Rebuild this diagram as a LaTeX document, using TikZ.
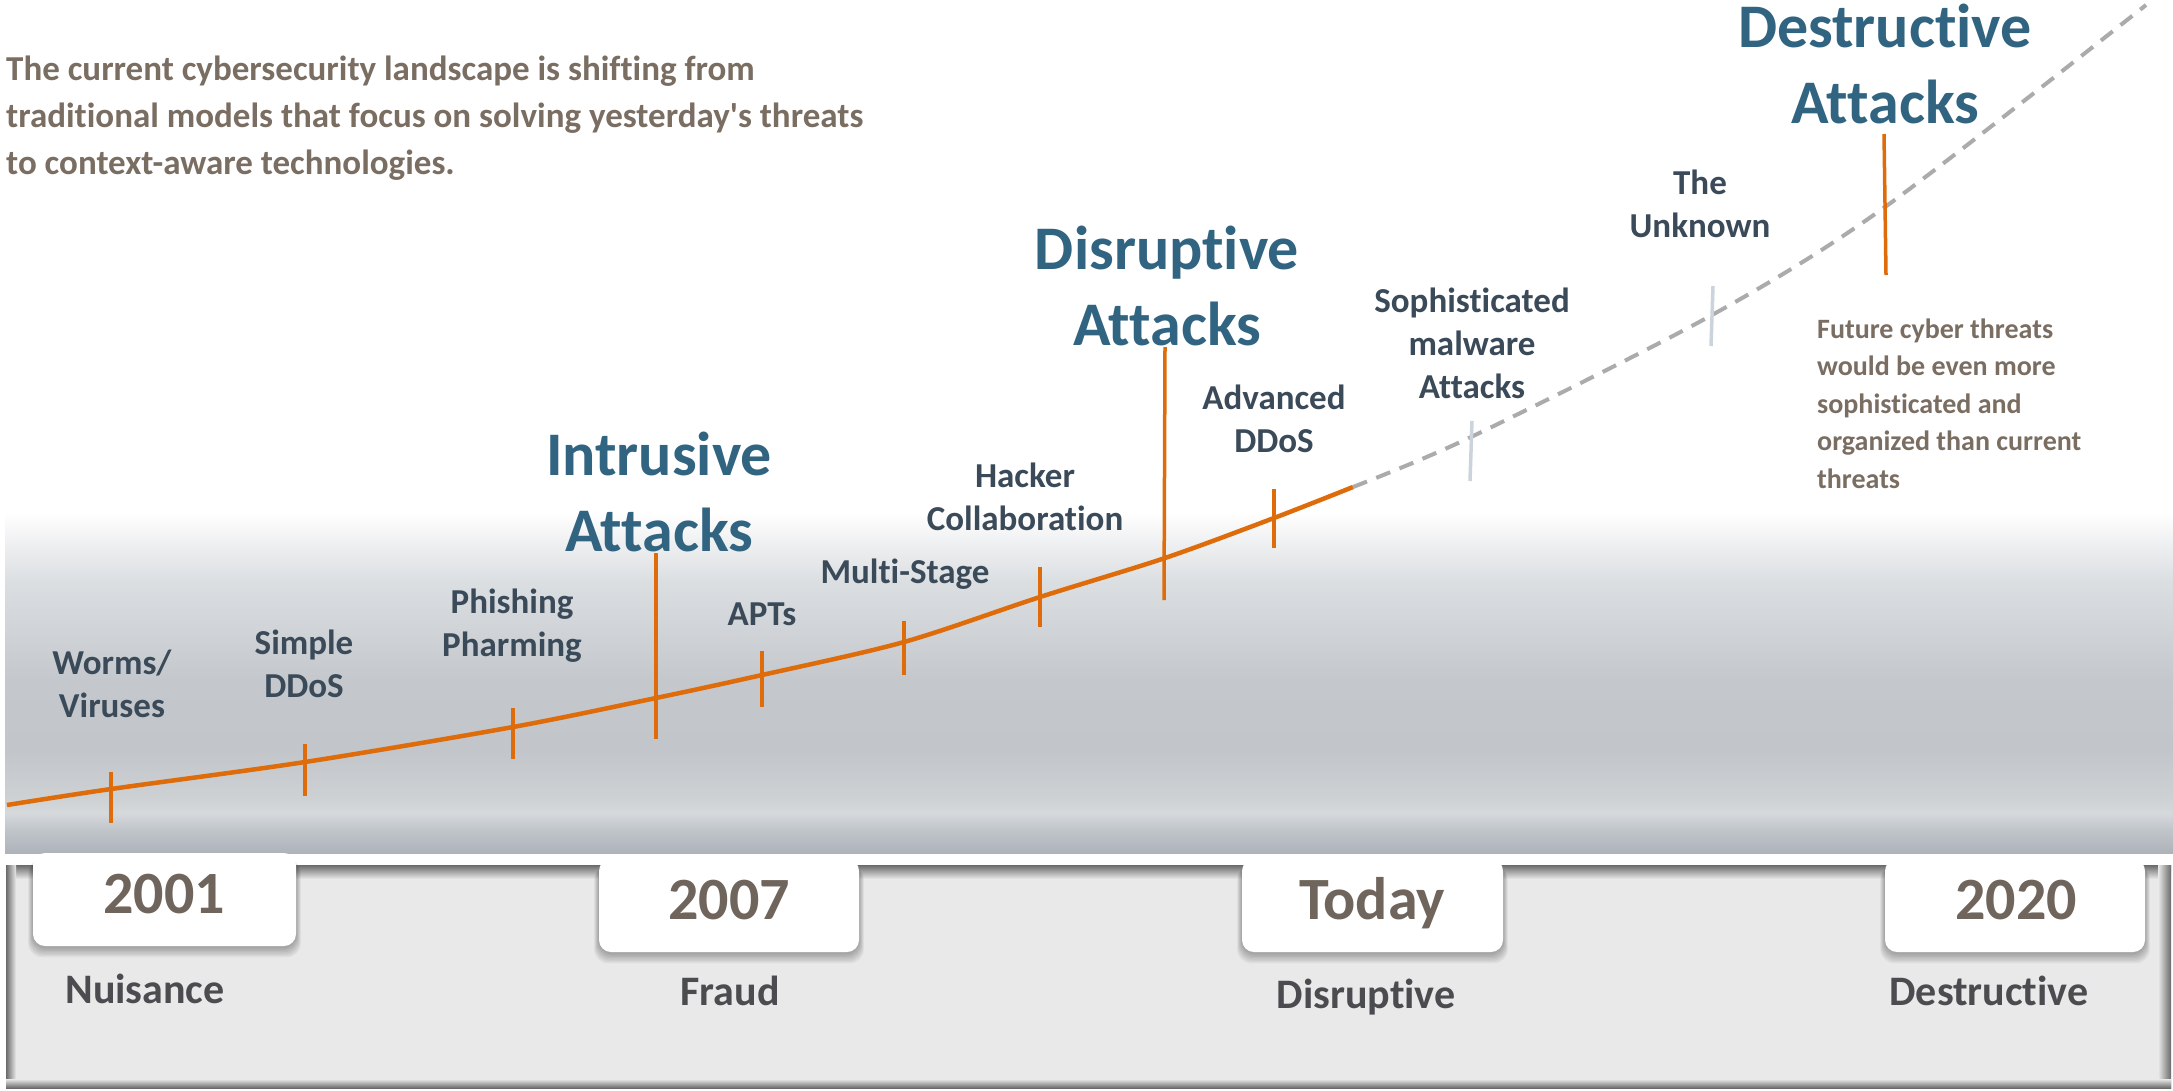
\documentclass[tikz,border=0pt]{standalone}
\usepackage{fontspec}
\setmainfont{Carlito}[Ligatures={TeX,NoCommon}]
\usetikzlibrary{calc}
\definecolor{orangeline}{HTML}{DE6C0A}
\definecolor{dashgrey}{HTML}{ABABAB}
\definecolor{lighttick}{HTML}{CBD4DC}
\definecolor{labelc}{HTML}{3B4A59}
\definecolor{bigc}{HTML}{316481}
\definecolor{parac}{HTML}{7A6D62}
\definecolor{yearc}{HTML}{6F655C}
\definecolor{erac}{HTML}{4B4C50}
\definecolor{panelc}{HTML}{E9E9E9}
\definecolor{paneledge}{HTML}{6A6A6A}
\definecolor{bA}{HTML}{ADB3B9}
\definecolor{bB}{HTML}{C0C5CA}
\definecolor{bC}{HTML}{D6D9DC}
\definecolor{bD}{HTML}{CDD1D4}
\definecolor{bE}{HTML}{C2C6CA}
\definecolor{bF}{HTML}{C4C8CC}
\definecolor{bG}{HTML}{DCDFE2}
\definecolor{bH}{HTML}{F0F1F2}
\pgfdeclareverticalshading{bandshade}{100bp}{color(0bp)=(bA); color(25bp)=(bA); color(28.4bp)=(bB); color(30.9bp)=(bC); color(33.2bp)=(bD); color(40.1bp)=(bE); color(50.4bp)=(bF); color(65.1bp)=(bG); color(71bp)=(bH); color(75bp)=(white); color(100bp)=(white)}
\newcommand\yeartab[5]{%
  \foreach \k in {1,...,8}{\fill[black,opacity=0.04,rounded corners=14pt] ({#2-#4/2-\k*0.6},{#3-#5/2+6}) rectangle ({#2+#4/2+\k*0.6},{#3+#5/2+1+\k*1.3});}
  \node[tabbox,minimum width=#4pt,minimum height=#5pt] (#1) at (#2,#3) {};
}
\begin{document}
\begin{tikzpicture}[x=1pt,y=-1pt,
  lab/.style={font=\bfseries\fontsize{35}{43}\selectfont, text=labelc, align=center, inner sep=0pt, anchor=base},
  big/.style={font=\bfseries\fontsize{62}{76}\selectfont, text=bigc, align=center, inner sep=0pt, anchor=base},
  para/.style={font=\bfseries\fontsize{35}{47}\selectfont, text=parac, align=left, inner sep=0pt, anchor=base west},
  future/.style={font=\bfseries\fontsize{28}{37.5}\selectfont, text=parac, align=left, inner sep=0pt, anchor=base west},
  yeartext/.style={font=\bfseries\fontsize{60}{70}\selectfont, text=yearc, inner sep=0pt, anchor=base},
  eratext/.style={font=\bfseries\fontsize{42}{50}\selectfont, text=erac, inner sep=0pt, anchor=base},
  tabbox/.style={fill=white, rounded corners=12pt, inner sep=0pt, draw=none},
  otick/.style={orangeline, line width=3.5pt},
  ltick/.style={lighttick, line width=3.5pt}]
\useasboundingbox (0,0) rectangle (2173,1090);
\fill[white] (0,0) rectangle (2173,1090);
% grey band
\shade[shading=bandshade] (5,513) rectangle (2173,853);
% bottom panel
\fill[panelc] (6,865) rectangle (2171,1088);
\shade[top color=paneledge, bottom color=panelc] (6,865) rectangle (2171,879);
\shade[left color=paneledge, right color=panelc] (6,865) rectangle (16,1088);
\shade[left color=panelc, right color=paneledge] (2158,865) rectangle (2171,1088);
\shade[top color=panelc, bottom color=paneledge] (6,1079) rectangle (2171,1088);
% year tabs
\yeartab{t2001}{164.5}{899.5}{263}{93}
\yeartab{t2007}{729}{905.5}{260}{93}
\yeartab{ttoday}{1372.5}{905.5}{261}{93}
\yeartab{t2020}{2015}{905.5}{260}{93}
\node[yeartext] (y2001) at (164,913) {2001};
\node[yeartext] (y2007) at (729,919) {2007};
\node[yeartext] (ytoday) at (1372,919) {Today};
\node[yeartext] (y2020) at (2016,919) {2020};
\node[eratext] (e1) at (145,1003) {Nuisance};
\node[eratext] (e2) at (730,1005) {Fraud};
\node[eratext] (e3) at (1366,1008) {Disruptive};
\node[eratext] (e4) at (1989,1005) {Destructive};
% curve
\draw[orangeline, line width=4.5pt] plot[smooth, tension=0.5] coordinates {(7,805) (111,789) (305,762) (513,727) (656,698) (762,675) (904,642) (1040,597) (1165,558) (1274,518) (1353,487)};
\draw[dashgrey, line width=4pt, dash pattern=on 15pt off 10pt] plot[smooth, tension=0.5] coordinates {(1353,487) (1471,437) (1712,315) (1885,207) (2146,5)};
% ticks
\draw[otick] (111,772) -- (111,823);
\draw[otick] (305,744) -- (305,796);
\draw[otick] (513,708) -- (513,759);
\draw[otick] (656,553) -- (656,739);
\draw[otick] (762,651) -- (762,707);
\draw[otick] (904,621) -- (904,675);
\draw[otick] (1040,567) -- (1040,627);
\draw[otick] (1165,347) -- (1164,600);
\draw[otick] (1274,489) -- (1274,548);
\draw[ltick] (1472,421) -- (1470,481);
\draw[ltick] (1713,286) -- (1711,346);
\draw[otick] (1884,134) -- (1886,275);
% labels (base anchor = baseline of last line)
\node[lab] (worms) at (112,717) {Worms/\\Viruses};
\node[lab] (sddos) at (304,697) {Simple\\DDoS};
\node[lab] (phish) at (512,656) {Phishing\\Pharming};
\node[big] (intr) at (659,551) {Intrusive\\Attacks};
\node[lab] (apts) at (762,625) {APTs};
\node[lab] (multi) at (905,583) {Multi-Stage};
\node[lab] (hack) at (1025,530) {Hacker\\Collaboration};
\node[big] (disr) at (1167,345) {Disruptive\\Attacks};
\node[lab] (addos) at (1274,452) {Advanced\\DDoS};
\node[lab] (soph) at (1472,398) {Sophisticated\\malware\\Attacks};
\node[lab] (unk) at (1700,237) {The\\Unknown};
\node[big] (destr) at (1885,123) {Destructive\\Attacks};
\node[para] (intro) at (6,174) {The current cybersecurity landscape is shifting from\\traditional models that focus on solving yesterday\textquotesingle s threats\\to context-aware technologies.};
\node[future] (fut) at (1817,488) {Future cyber threats\\would be even more\\sophisticated and\\organized than current\\threats};
\end{tikzpicture}
\end{document}
